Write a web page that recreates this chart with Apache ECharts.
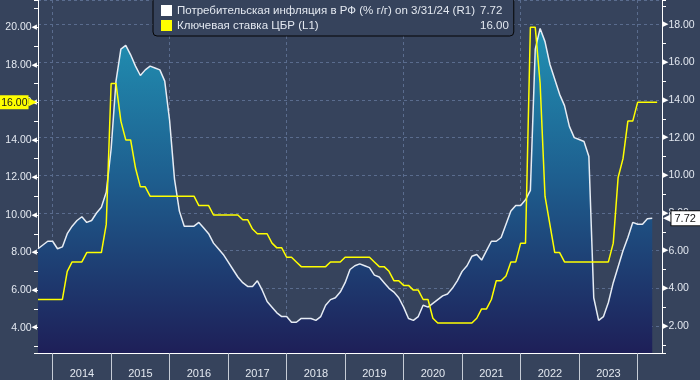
<!DOCTYPE html>
<html><head><meta charset="utf-8">
<script src="https://cdn.jsdelivr.net/npm/echarts@6/dist/echarts.min.js"></script>
<style>html,body{margin:0;padding:0;background:#36435c}#c{width:700px;height:380px}</style>
</head><body><div id="c"></div>
<script>
// ---- data ----
const firstYear = 2013, firstMonth = 9, monthCount = 129; // Sep 2013 .. May 2024 (month-end)
const inflationName = 'Потребительская инфляция в РФ (% г/г) on 3/31/24 (R1)';
const rateName = 'Ключевая ставка ЦБР (L1)';
// CPI y/y, % (right axis), Sep 2013 .. Mar 2024
const inflation = [
  6.1, 6.3, 6.5, 6.5,
  6.1, 6.2, 6.9, 7.3, 7.6, 7.8, 7.5, 7.6, 8.0, 8.3, 9.1, 11.4,
  15.0, 16.7, 16.9, 16.4, 15.8, 15.3, 15.6, 15.8, 15.7, 15.6, 15.0, 12.9,
  9.8, 8.1, 7.3, 7.3, 7.3, 7.5, 7.2, 6.9, 6.4, 6.1, 5.8, 5.4,
  5.0, 4.6, 4.3, 4.1, 4.1, 4.4, 3.9, 3.3, 3.0, 2.7, 2.5, 2.5,
  2.2, 2.2, 2.4, 2.4, 2.4, 2.3, 2.5, 3.1, 3.4, 3.5, 3.8, 4.3,
  5.0, 5.2, 5.3, 5.2, 5.1, 4.7, 4.6, 4.3, 4.0, 3.8, 3.5, 3.0,
  2.4, 2.3, 2.5, 3.1, 3.0, 3.2, 3.4, 3.6, 3.7, 4.0, 4.4, 4.9,
  5.2, 5.7, 5.8, 5.5, 6.0, 6.5, 6.5, 6.7, 7.4, 8.1, 8.4, 8.4,
  8.7, 9.2, 16.7, 17.8, 17.1, 15.9, 15.1, 14.3, 13.7, 12.6, 12.0, 11.9,
  11.8, 11.0, 3.5, 2.3, 2.5, 3.25, 4.3, 5.15, 6.0, 6.7, 7.5, 7.4,
  7.4, 7.7, 7.72
];
// CBR key rate, % (left axis), Sep 2013 .. Apr 2024
const keyRate = [
  5.5, 5.5, 5.5, 5.5,
  5.5, 5.5, 7.0, 7.5, 7.5, 7.5, 8.0, 8.0, 8.0, 8.0, 9.5, 17.0,
  17.0, 15.0, 14.0, 14.0, 12.5, 11.5, 11.5, 11.0, 11.0, 11.0, 11.0, 11.0,
  11.0, 11.0, 11.0, 11.0, 11.0, 10.5, 10.5, 10.5, 10.0, 10.0, 10.0, 10.0,
  10.0, 10.0, 9.75, 9.75, 9.25, 9.0, 9.0, 9.0, 8.5, 8.25, 8.25, 7.75,
  7.75, 7.5, 7.25, 7.25, 7.25, 7.25, 7.25, 7.25, 7.5, 7.5, 7.5, 7.75,
  7.75, 7.75, 7.75, 7.75, 7.75, 7.5, 7.25, 7.25, 7.0, 6.5, 6.5, 6.25,
  6.25, 6.0, 6.0, 5.5, 5.5, 4.5, 4.25, 4.25, 4.25, 4.25, 4.25, 4.25,
  4.25, 4.25, 4.5, 5.0, 5.0, 5.5, 6.5, 6.5, 6.75, 7.5, 7.5, 8.5,
  8.5, 20.0, 20.0, 17.0, 11.0, 9.5, 8.0, 8.0, 7.5, 7.5, 7.5, 7.5,
  7.5, 7.5, 7.5, 7.5, 7.5, 7.5, 8.5, 12.0, 13.0, 15.0, 15.0, 16.0,
  16.0, 16.0, 16.0, 16.0
];
const leftRange = [2.65, 21.45];
const rightRange = [0.566, 19.31];

const months = [];
for (let i = 0; i < monthCount; i++) {
  const m0 = firstMonth - 1 + i;
  const y = firstYear + Math.floor(m0 / 12);
  const m = (m0 % 12) + 1;
  months.push(y + '-' + (m < 10 ? '0' + m : '' + m));
}
const lastInf = inflation[inflation.length - 1].toFixed(2);
const lastRate = keyRate[keyRate.length - 1].toFixed(2);

// ---- styling ----
const BG = '#36435c';
const TXT = '#e3e8f0';
const GRID = '#5a6c8e';
const FONT = 'Liberation Sans';
const isEven = v => Math.abs(v / 2 - Math.round(v / 2)) < 1e-6;

const chart = echarts.init(document.getElementById('c'), null, {renderer: 'canvas'});
chart.setOption({
  backgroundColor: BG,
  animation: false,
  grid: {left: 38, right: 38, top: 0, bottom: 27, containLabel: false, outerBoundsMode: 'none'},
  legend: {
    left: 153, top: -6, orient: 'vertical', itemGap: 0, itemWidth: 11, itemHeight: 11,
    padding: [9, 5, 3, 8], backgroundColor: BG, borderColor: '#050505', borderWidth: 1, borderRadius: 4,
    selectedMode: false,
    data: [
      {name: inflationName, icon: 'rect', itemStyle: {color: '#ffffff', borderWidth: 0}},
      {name: rateName, icon: 'rect', itemStyle: {color: '#ffff00', borderWidth: 0}}
    ],
    formatter: name => '{n|' + name + '}{v|' + (name === inflationName ? lastInf : lastRate) + '}',
    textStyle: {
      color: TXT, fontSize: 11.5, fontFamily: FONT, lineHeight: 15,
      rich: {
        n: {width: 303, color: TXT, fontSize: 11.5, fontFamily: FONT, lineHeight: 15},
        v: {color: TXT, fontSize: 11.5, fontFamily: FONT, lineHeight: 15}
      }
    }
  },
  xAxis: {
    type: 'category', data: months, boundaryGap: false,
    axisLine: {show: true, lineStyle: {color: '#ffffff', width: 1}},
    axisTick: {show: true, length: 27, interval: (i, v) => v.endsWith('-12'), lineStyle: {color: '#c6ccd6'}},
    axisLabel: {interval: (i, v) => v.endsWith('-06'), formatter: v => v.slice(0, 4), margin: 15,
      color: TXT, fontSize: 11, fontFamily: FONT},
    splitLine: {show: true, interval: (i, v) => v.endsWith('-12') && (+v.slice(0, 4)) % 2 === 1,
      lineStyle: {color: GRID, type: [3, 3], width: 1}}
  },
  yAxis: [
    {
      type: 'value', position: 'left', min: leftRange[0], max: leftRange[1], splitNumber: 9,
      axisLine: {show: true, lineStyle: {color: '#ffffff', width: 1}},
      axisTick: {show: false}, splitLine: {show: false},
      axisLabel: {margin: 1, formatter: v => isEven(v) ? '{t|' + v.toFixed(2) + '}{a|◀}' : '',
        rich: {t: {color: TXT, fontSize: 10.5, fontFamily: FONT}, a: {color: '#ffffff', fontSize: 7, fontFamily: 'DejaVu Sans'}}}
    },
    {
      type: 'value', position: 'right', min: rightRange[0], max: rightRange[1], splitNumber: 9,
      axisLine: {show: true, lineStyle: {color: '#ffffff', width: 1}},
      axisTick: {show: false},
      splitLine: {show: true, lineStyle: {color: GRID, type: [3, 3], width: 1}},
      axisLabel: {margin: 1, formatter: v => isEven(v) ? '{a|▶}{t|' + v.toFixed(2) + '}' : '',
        rich: {t: {color: TXT, fontSize: 10.5, fontFamily: FONT}, a: {color: '#ffffff', fontSize: 7, fontFamily: 'DejaVu Sans'}}}
    },
    {
      type: 'value', position: 'left', min: leftRange[0], max: leftRange[1], splitNumber: 19,
      axisLine: {show: false}, axisLabel: {show: false}, splitLine: {show: false},
      axisTick: {show: true, length: 4, lineStyle: {color: '#ffffff'}}
    },
    {
      type: 'value', position: 'right', min: rightRange[0], max: rightRange[1], splitNumber: 19,
      axisLine: {show: false}, axisLabel: {show: false}, splitLine: {show: false},
      axisTick: {show: true, length: 4, lineStyle: {color: '#ffffff'}}
    }
  ],
  series: [
    {
      name: inflationName, type: 'line', yAxisIndex: 1, data: inflation,
      symbol: 'none', showSymbol: false, z: 2,
      lineStyle: {color: '#e6ecf4', width: 1.5},
      itemStyle: {color: '#ffffff'},
      areaStyle: {origin: 'start', opacity: 1, color: {
        type: 'linear', x: 0, y: 27, x2: 0, y2: 353, global: true,
        colorStops: [{offset: 0, color: '#2191b3'}, {offset: 0.45, color: '#1e6090'}, {offset: 1, color: '#1e1f58'}]
      }},
      markLine: {
        silent: true, symbol: ['none', 'none'], z: 10,
        lineStyle: {color: 'rgba(0,0,0,0)', width: 0, type: 'solid'},
        data: [{yAxis: inflation[inflation.length - 1]}],
        label: {show: true, position: 'end', distance: 1,
          formatter: p => '{p|◀}{b|' + Number(p.value).toFixed(2) + '}',
          rich: {
            p: {color: '#ffffff', fontSize: 11, fontFamily: 'DejaVu Sans'},
            b: {color: '#111111', backgroundColor: '#ffffff', borderColor: '#111', borderWidth: 1,
              fontSize: 11, fontFamily: FONT, padding: [2, 20, 1, 3]}
          }}
      }
    },
    {
      name: rateName, type: 'line', yAxisIndex: 0, data: keyRate,
      symbol: 'none', showSymbol: false, z: 3,
      lineStyle: {color: '#ffff00', width: 1.5},
      itemStyle: {color: '#ffff00'},
      markLine: {
        silent: true, symbol: ['none', 'none'], z: 10,
        lineStyle: {color: 'rgba(0,0,0,0)', width: 0, type: 'solid'},
        data: [{yAxis: keyRate[keyRate.length - 1]}],
        label: {show: true, position: 'start', distance: 1,
          formatter: p => '{b|' + Number(p.value).toFixed(2) + '}{p|▶}',
          rich: {
            b: {color: '#1a1a1a', backgroundColor: '#ffff00', fontSize: 10.5, fontFamily: FONT, padding: [2, 1, 1, 6]},
            p: {color: '#ffff00', fontSize: 11, fontFamily: 'DejaVu Sans'}
          }}
      }
    }
  ]
});
</script>
</body></html>
